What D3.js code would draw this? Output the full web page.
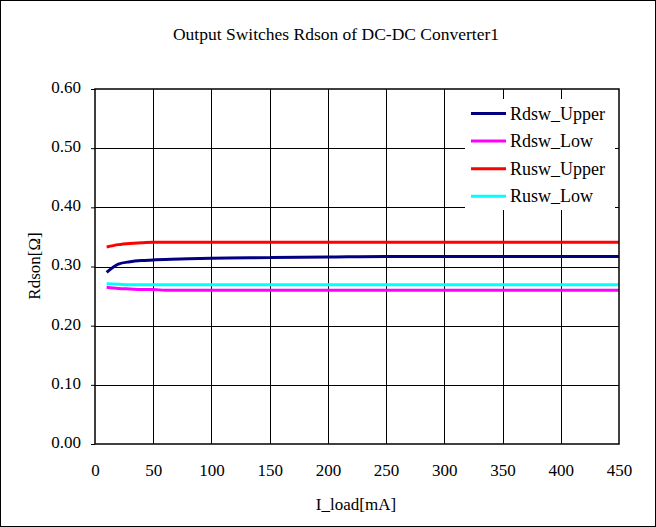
<!DOCTYPE html>
<html>
<head>
<meta charset="utf-8">
<script src="https://cdn.jsdelivr.net/npm/d3@7"></script>
</head>
<body style="margin:0">
<svg id="chart" width="656" height="527"></svg>
<script>
// Load current (mA) at which Rdson was measured
const loadCurrent = [10, 20, 30, 40, 50, 60, 80, 100, 150, 200, 250, 300, 350, 400, 450];

// Rdson per switch (ohm)
const rdswUpper = [0.290, 0.304, 0.308, 0.310, 0.311, 0.312, 0.313, 0.314, 0.315, 0.316, 0.317, 0.317, 0.317, 0.317, 0.317];
const rdswLow   = [0.265, 0.263, 0.262, 0.261, 0.261, 0.260, 0.260, 0.260, 0.260, 0.260, 0.260, 0.260, 0.260, 0.260, 0.260];
const ruswUpper = [0.333, 0.337, 0.339, 0.340, 0.341, 0.341, 0.341, 0.341, 0.341, 0.341, 0.341, 0.341, 0.341, 0.341, 0.341];
const ruswLow   = [0.271, 0.270, 0.269, 0.269, 0.269, 0.269, 0.269, 0.269, 0.269, 0.269, 0.269, 0.269, 0.269, 0.269, 0.269];

const seriesNames  = ["Rdsw_Upper", "Rdsw_Low", "Rusw_Upper", "Rusw_Low"];
const seriesColors = ["#000080", "#ff00ff", "#ff0000", "#00ffff"];
const seriesValues = [rdswUpper, rdswLow, ruswUpper, ruswLow];

const xTicks = [0, 50, 100, 150, 200, 250, 300, 350, 400, 450];
const yTicks = [0, 0.1, 0.2, 0.3, 0.4, 0.5, 0.6];

const FONT = "Liberation Serif";

const svg = d3.select("#chart");
const W = 656, H = 527;
const plot = { left: 95, right: 619, top: 89, bottom: 444 };

// outer frame
svg.append("rect")
  .attr("x", 0.5).attr("y", 0.5)
  .attr("width", W - 1).attr("height", H - 1)
  .attr("fill", "#fff").attr("stroke", "#000").attr("stroke-width", 1);

const x = d3.scaleLinear().domain([0, 450]).range([plot.left, plot.right]);
const y = d3.scaleLinear().domain([0, 0.6]).range([plot.bottom, plot.top]);

// grid
const grid = svg.append("g").attr("stroke", "#000").attr("stroke-width", 1);
xTicks.slice(1, -1).forEach(t => {
  grid.append("line")
    .attr("x1", Math.round(x(t)) + 0.5).attr("x2", Math.round(x(t)) + 0.5)
    .attr("y1", plot.top).attr("y2", plot.bottom);
});
yTicks.slice(1, -1).forEach(t => {
  grid.append("line")
    .attr("x1", plot.left).attr("x2", plot.right)
    .attr("y1", Math.round(y(t)) + 0.5).attr("y2", Math.round(y(t)) + 0.5);
});

// axes
const yAxis = d3.axisLeft(y).tickValues(yTicks).tickFormat(d3.format(".2f")).tickSize(4).tickPadding(10);
const xAxis = d3.axisBottom(x).tickValues(xTicks).tickFormat(d3.format("d")).tickSize(0).tickPadding(20);

const gy = svg.append("g").attr("transform", `translate(${plot.left},0)`).call(yAxis);
const gx = svg.append("g").attr("transform", `translate(0,${plot.bottom})`).call(xAxis);
[gy, gx].forEach(g => {
  g.select(".domain").remove();
  g.selectAll("line").attr("stroke", "#000");
  g.selectAll("text").attr("fill", "#000").attr("font-size", 17);
});
gy.selectAll("text").attr("dy", "0.2em");

// series lines
const line = d3.line()
  .x((d, i) => x(loadCurrent[i]))
  .y(d => y(d))
  .curve(d3.curveMonotoneX);

seriesValues.forEach((vals, k) => {
  svg.append("path")
    .datum(vals)
    .attr("d", line)
    .attr("fill", "none")
    .attr("stroke", seriesColors[k])
    .attr("stroke-width", 3)
    .attr("stroke-linejoin", "round");
});

// plot frame
svg.append("rect")
  .attr("x", plot.left).attr("y", plot.top)
  .attr("width", plot.right - plot.left).attr("height", plot.bottom - plot.top)
  .attr("fill", "none").attr("stroke", "#000").attr("stroke-width", 1.5);

// legend
const legend = svg.append("g");
legend.append("rect")
  .attr("x", 465).attr("y", 99).attr("width", 150).attr("height", 111)
  .attr("fill", "#fff");
seriesNames.forEach((name, k) => {
  const yy = 113.5 + k * 27.6;
  legend.append("line")
    .attr("x1", 471).attr("x2", 506)
    .attr("y1", yy).attr("y2", yy)
    .attr("stroke", seriesColors[k]).attr("stroke-width", 3);
  legend.append("text")
    .attr("x", 510).attr("y", yy + 6)
    .attr("font-size", 18)
    .text(name);
});

// titles
svg.append("text")
  .attr("x", 336).attr("y", 40)
  .attr("text-anchor", "middle")
  .attr("font-size", 17.5)
  .text("Output Switches Rdson of DC-DC Converter1");

svg.append("text")
  .attr("x", 356).attr("y", 510)
  .attr("text-anchor", "middle")
  .attr("font-size", 17)
  .text("I_load[mA]");

svg.append("text")
  .attr("transform", "translate(40,266) rotate(-90)")
  .attr("text-anchor", "middle")
  .attr("font-size", 17)
  .text("Rdson[Ω]");

// serif face on every label
svg.selectAll("text").attr("font-family", FONT);
</script>
</body>
</html>
